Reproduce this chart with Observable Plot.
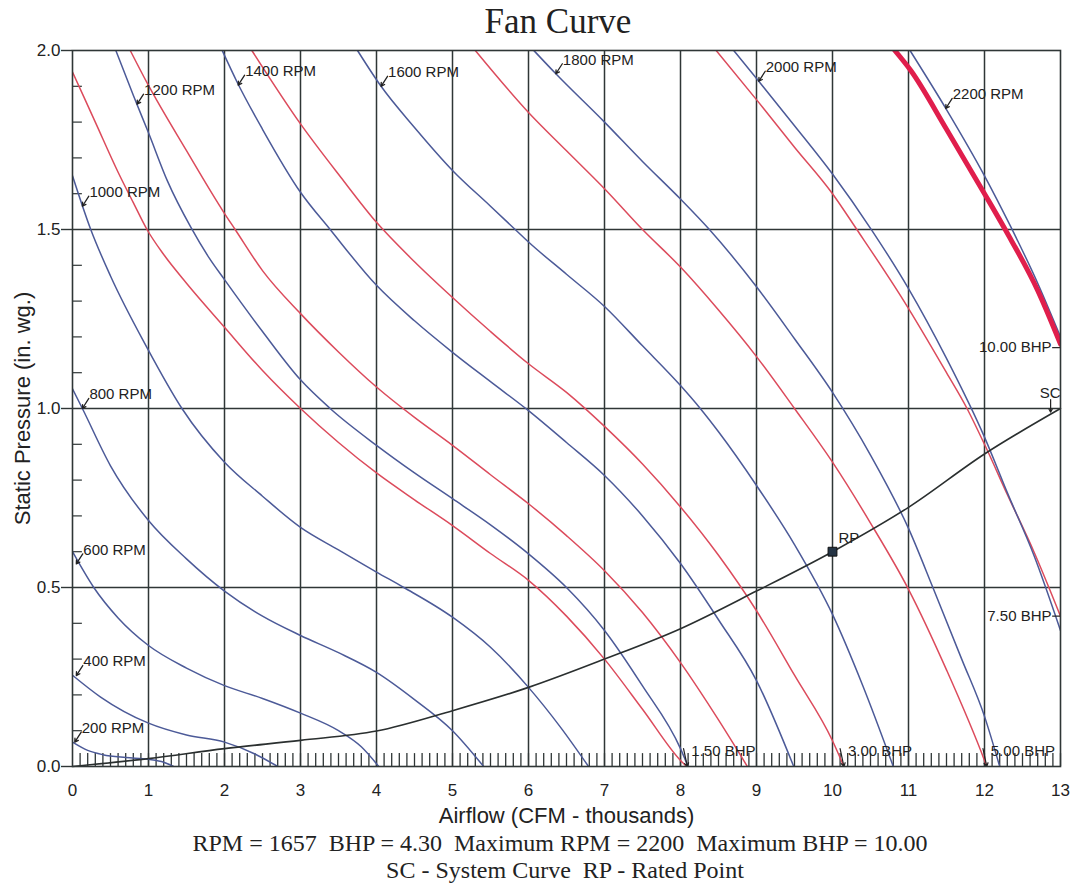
<!DOCTYPE html>
<html>
<head>
<meta charset="utf-8">
<script src="https://cdn.jsdelivr.net/npm/d3@7"></script>
<script src="https://cdn.jsdelivr.net/npm/@observablehq/plot@0.6"></script>
<style>
  html, body { margin: 0; padding: 0; background: #fff; }
  #wrap { position: relative; width: 1075px; height: 886px; overflow: hidden; }
  #title { position: absolute; left: 558px; top: 2px; transform: translateX(-50%); white-space: nowrap;
    font-family: "Liberation Serif", "Times New Roman", serif; font-size: 35px; line-height: 40px; color: #222; }
  .cap { position: absolute; transform: translateX(-50%); white-space: nowrap;
    font-family: "Liberation Serif", "Times New Roman", serif; font-size: 24px; line-height: 28px; color: #222; }
  #chart { position: absolute; left: 0; top: 0; }
</style>
</head>
<body>
<div id="wrap">
  <div id="chart"></div>
  <div id="title">Fan Curve</div>
  <div class="cap" style="left:560px; top:829px;">RPM = 1657&nbsp; BHP = 4.30&nbsp; Maximum RPM = 2200&nbsp; Maximum BHP = 10.00</div>
  <div class="cap" style="left:565px; top:856px;">SC - System Curve&nbsp; RP - Rated Point</div>
</div>
<script>
// ---------- data ----------
const xTicks = [0,1,2,3,4,5,6,7,8,9,10,11,12,13];
const yTicks = [0, 0.5, 1.0, 1.5, 2.0];
const yMinor = [0.1,0.2,0.3,0.4,0.6,0.7,0.8,0.9,1.1,1.2,1.3,1.4,1.6,1.7,1.8,1.9];

// fan speed curves (CFM thousands, in. wg.)
const rpm200  = [[0,0.068],[0.2,0.045],[0.4,0.033],[0.7,0.025],[1.0,0.02],[1.2,0.012],[1.33,0]];
const rpm400  = [[0,0.255],[0.37,0.194],[1,0.121],[1.5,0.088],[2,0.068],[2.4,0.035],[2.7,0]];
const rpm600  = [[0,0.6],[0.28,0.5],[0.6,0.415],[1,0.338],[1.5,0.275],[2,0.226],[2.5,0.19],[3,0.149],[3.5,0.1],[3.8,0.055],[4.03,0]];
const rpm800  = [[0,1.055],[0.13,1.0],[0.5,0.84],[1,0.687],[1.5,0.58],[2,0.49],[2.5,0.42],[3,0.366],[3.5,0.318],[4,0.263],[4.5,0.187],[5,0.1],[5.41,0]];
const rpm1000 = [[0,1.65],[0.24,1.5],[0.5,1.37],[0.98,1.17],[1.44,1.0],[2,0.85],[2.5,0.755],[3,0.668],[3.5,0.605],[4,0.543],[4.36,0.5],[5,0.417],[5.5,0.333],[6,0.221],[6.42,0.11],[6.79,0]];
const rpm1200 = [[0.57,2.0],[0.8,1.875],[1.0,1.77],[1.25,1.635],[1.56,1.505],[1.8,1.42],[2,1.36],[2.5,1.215],[3,1.08],[3.39,1.0],[4,0.897],[4.5,0.82],[5,0.748],[5.5,0.675],[6,0.594],[6.5,0.5],[7,0.38],[7.5,0.225],[8,0.05],[8.1,0]];
const rpm1400 = [[1.97,2.0],[2.17,1.91],[2.5,1.78],[3,1.604],[3.39,1.5],[4,1.344],[4.5,1.245],[5,1.157],[5.5,1.075],[6,0.994],[6.5,0.905],[7,0.813],[7.5,0.7],[8,0.567],[8.5,0.41],[9,0.24],[9.49,0]];
const rpm1600 = [[3.75,2.0],[4.06,1.9],[4.5,1.785],[5,1.665],[5.5,1.565],[5.8,1.505],[6,1.465],[6.5,1.375],[7,1.285],[7.5,1.175],[8,1.064],[8.26,1.0],[8.5,0.935],[9,0.785],[9.5,0.62],[10,0.425],[10.4,0.225],[10.8,0]];
const rpm1800 = [[6.07,2.0],[6.36,1.935],[7,1.80],[7.5,1.69],[8,1.585],[8.38,1.5],[9,1.34],[9.5,1.195],[10,1.045],[10.5,0.87],[11,0.665],[11.33,0.495],[11.7,0.3],[12,0.14],[12.2,0]];
const rpm2000 = [[8.7,2.0],[9.03,1.914],[9.5,1.79],[10,1.655],[10.52,1.497],[11,1.335],[11.5,1.14],[12,0.92],[12.3,0.765],[12.65,0.59],[13,0.38]];
const rpm2200 = [[11.02,2.0],[11.5,1.835],[12,1.65],[12.34,1.51],[12.7,1.35],[13,1.2]];

// brake horsepower curves
const bhpA   = [[0,1.94],[0.3,1.8],[0.6,1.66],[0.8,1.575],[0.98,1.5],[1.2,1.43],[1.5,1.35],[2,1.227],[2.5,1.106],[3,1.0],[3.5,0.905],[4,0.82],[4.5,0.745],[5,0.673],[5.5,0.595],[6,0.52],[6.5,0.42],[7,0.30],[7.5,0.16],[8,0.017],[8.08,0]];
const bhpB   = [[0.76,2.0],[0.98,1.91],[1.5,1.72],[1.99,1.548],[2.14,1.5],[2.5,1.385],[3,1.265],[3.5,1.158],[4,1.06],[4.5,0.975],[5,0.897],[5.5,0.815],[6,0.734],[6.5,0.645],[7,0.547],[7.5,0.43],[8,0.29],[8.5,0.13],[8.88,0]];
const bhpC   = [[2.36,2.0],[3,1.795],[3.53,1.646],[4,1.52],[4.5,1.41],[5,1.31],[5.5,1.215],[6,1.125],[6.5,1.045],[7,0.95],[7.5,0.845],[8,0.725],[8.5,0.59],[9,0.435],[9.5,0.255],[10,0.072],[10.15,0]];
const bhpD   = [[5.30,2.0],[6,1.827],[6.5,1.72],[7,1.614],[7.5,1.5],[8,1.395],[8.5,1.275],[9,1.145],[9.5,1.0],[10,0.85],[10.5,0.68],[11,0.495],[11.5,0.27],[12,0.017],[12.03,0]];
const bhpE   = [[8.47,2.0],[9.01,1.86],[9.5,1.73],[10,1.6],[10.32,1.5],[10.94,1.30],[11.5,1.1],[11.77,1.0],[12,0.9],[12.3,0.76],[12.65,0.6],[13,0.42]];
const bhpMax = [[10.82,2.0],[11.03,1.944],[11.5,1.78],[12,1.6],[12.28,1.497],[12.7,1.33],[13,1.18]];

// system curve and rated point
const systemCurve = [[0,0],[1,0.022],[2,0.05],[3,0.073],[4,0.099],[5,0.156],[6,0.221],[7,0.30],[8,0.385],[9,0.49],[10,0.6],[11,0.724],[12,0.873],[13,1.0]];
const ratedPoint = [[10, 0.6]];

// labels: text and the curve point each one marks
const rpmLabels = ["200 RPM","400 RPM","600 RPM","800 RPM","1000 RPM","1200 RPM","1400 RPM","1600 RPM","1800 RPM","2000 RPM","2200 RPM"];
const rpmLabelPts = [[0.03,0.068],[0.05,0.254],[0.05,0.566],[0.13,1.0],[0.13,1.565],[0.85,1.85],[2.18,1.903],[4.06,1.9],[6.36,1.935],[9.03,1.914],[11.49,1.838]];
const bhpBottomLabels = ["1.50 BHP","3.00 BHP","5.00 BHP"];
const bhpBottomPts = [[8.09,0],[10.15,0],[12.03,0]];
const bhpRightLabels = ["7.50 BHP","10.00 BHP"];
const bhpRightPts = [[13,0.42],[13,1.17]];
const scLabelPt = [[12.87,0.99]];

// ---------- build tables ----------
const rows = (arr, name) => arr.map(([x, y]) => ({x, y, curve: name}));
const rpmSeries = {rpm200, rpm400, rpm600, rpm800, rpm1000, rpm1200, rpm1400, rpm1600, rpm1800, rpm2000, rpm2200};
const bhpSeries = {bhpA, bhpB, bhpC, bhpD, bhpE};
const rpmRows = Object.entries(rpmSeries).flatMap(([k, v]) => rows(v, k));
const bhpRows = Object.entries(bhpSeries).flatMap(([k, v]) => rows(v, k));
const bhpMaxRows = rows(bhpMax, "max");
const sysRows = rows(systemCurve, "sc");
const rpLabelRows = rpmLabels.map((t, i) => ({text: t, x: rpmLabelPts[i][0], y: rpmLabelPts[i][1]}));
const bbRows = bhpBottomLabels.map((t, i) => ({text: t, x: bhpBottomPts[i][0], y: bhpBottomPts[i][1]}));
const brRows = bhpRightLabels.map((t, i) => ({text: t, x: bhpRightPts[i][0], y: bhpRightPts[i][1]}));
const hatchX = d3.range(1, 131).map(i => i / 10);

const gridColor = "#2f3636";
const blue = "#4c5a98";
const red = "#dc4b5c";
const ink = "#222";

const chart = Plot.plot({
  width: 1075,
  height: 840,
  marginTop: 50,
  marginBottom: 74,
  marginLeft: 72,
  marginRight: 15,
  style: {fontFamily: "'Liberation Sans', Arial, sans-serif", fontSize: "17px", color: ink, background: "transparent"},
  x: {domain: [0, 13], ticks: xTicks, tickFormat: d => String(d)},
  y: {domain: [0, 2], ticks: yTicks, tickFormat: d => d.toFixed(1)},
  marks: [
    Plot.ruleX(xTicks.slice(1, -1), {stroke: gridColor, strokeWidth: 1.5}),
    Plot.ruleY(yTicks.slice(1, -1), {stroke: gridColor, strokeWidth: 1.5}),
    Plot.ruleX(hatchX, {y1: 0, y2: 0.036, stroke: gridColor, strokeWidth: 1.3}),
    Plot.ruleY(yMinor, {x1: 0, x2: 0.13, stroke: gridColor, strokeWidth: 1.2}),
    Plot.line(bhpRows, {x: "x", y: "y", z: "curve", stroke: red, strokeWidth: 1.5, curve: "monotone-x", clip: true}),
    Plot.line(rpmRows, {x: "x", y: "y", z: "curve", stroke: blue, strokeWidth: 1.5, curve: "monotone-x", clip: true}),
    Plot.line(bhpMaxRows, {x: "x", y: "y", stroke: "#e01e4c", strokeWidth: 5, curve: "monotone-x", clip: true}),
    Plot.line(sysRows, {x: "x", y: "y", stroke: "#2a2f2f", strokeWidth: 1.6, curve: "monotone-x"}),
    Plot.dot(ratedPoint, {x: d => d[0], y: d => d[1], symbol: "square", r: 5, fill: "#243444", stroke: "#111", strokeWidth: 1}),
    Plot.text(ratedPoint, {x: d => d[0], y: d => d[1], text: () => "RP", dx: 6, dy: -14, textAnchor: "start", fontSize: 15, fill: ink}),
    // RPM labels with leaders
    Plot.arrow(rpLabelRows, {x1: d => d.x + 0.085, y1: d => d.y + 0.028, x2: "x", y2: "y", stroke: ink, strokeWidth: 1.3, headLength: 5}),
    Plot.text(rpLabelRows, {x: "x", y: "y", text: "text", dx: 7, dy: -14, textAnchor: "start", fontSize: 15, fill: ink}),
    // BHP labels at the bottom
    Plot.arrow(bbRows, {x1: d => d.x - 0.05, y1: d => d.y + 0.05, x2: "x", y2: "y", stroke: ink, strokeWidth: 1.2, headLength: 5}),
    Plot.text(bbRows, {x: "x", y: "y", text: "text", dx: 4, dy: -15, textAnchor: "start", fontSize: 15, fill: ink}),
    // BHP labels on the right edge
    Plot.link(brRows, {x1: d => d.x - 0.11, y1: "y", x2: "x", y2: "y", stroke: ink, strokeWidth: 1.2}),
    Plot.text(brRows, {x: "x", y: "y", text: "text", dx: -9, textAnchor: "end", fontSize: 15, fill: ink}),
    // system curve label
    Plot.arrow(scLabelPt, {x1: d => d[0], y1: d => d[1] + 0.035, x2: d => d[0], y2: d => d[1], stroke: ink, strokeWidth: 1.2, headLength: 4}),
    Plot.text(scLabelPt, {x: d => d[0], y: d => d[1], text: () => "SC", dx: 10, dy: -19, textAnchor: "end", fontSize: 15, fill: ink}),
    Plot.frame({stroke: gridColor, strokeWidth: 1.6}),
    Plot.axisX({ticks: xTicks, tickSize: 0, tickPadding: 17, label: null, tickFormat: d => String(d), fontSize: 17}),
    Plot.axisY({ticks: yTicks, tickSize: 11, tickPadding: 1, label: null, tickFormat: d => d.toFixed(1), fontSize: 17, stroke: gridColor, strokeWidth: 1.4}),
    Plot.text(["Airflow (CFM - thousands)"], {frameAnchor: "bottom", dy: 49, lineAnchor: "middle", textAnchor: "middle", fontSize: 22, fill: ink}),
    Plot.text(["Static Pressure (in. wg.)"], {frameAnchor: "left", dx: -50, rotate: -90, lineAnchor: "middle", textAnchor: "middle", fontSize: 22, fill: ink})
  ]
});
document.getElementById("chart").appendChild(chart);
</script>
</body>
</html>
